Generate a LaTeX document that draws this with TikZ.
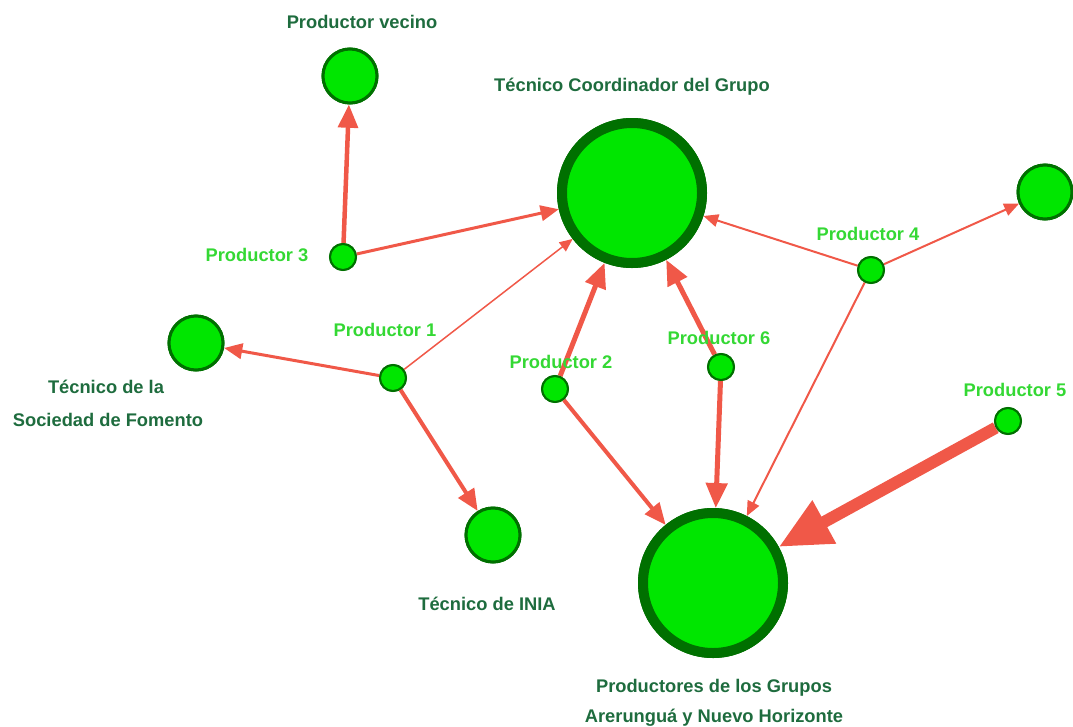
\documentclass[tikz,border=0pt]{standalone}
\usepackage{fontspec}
\setmainfont{Liberation Sans}
\usetikzlibrary{arrows.meta}
\definecolor{edgec}{RGB}{240,88,72}
\definecolor{nfill}{RGB}{0,230,0}
\definecolor{nborder}{RGB}{0,112,0}
\definecolor{darklab}{RGB}{30,108,62}
\definecolor{lightlab}{RGB}{52,216,52}
\tikzset{
  bignode/.style={circle, fill=nfill, draw=nborder, line width=10pt, minimum size=140pt, inner sep=0pt},
  midnode/.style={circle, fill=nfill, draw=nborder, line width=3pt, minimum size=54pt, inner sep=0pt},
  prodnode/.style={circle, fill=nfill, draw=nborder, line width=2pt, minimum size=26pt, inner sep=0pt},
  darktext/.style={text=darklab, font=\bfseries\fontsize{18.3}{21}\selectfont, inner sep=0pt},
  lighttext/.style={text=lightlab, font=\bfseries\fontsize{18.3}{21}\selectfont, inner sep=0pt},
  edge/.style={draw=edgec, -{Triangle[length=#1*3.4pt+8pt, width=#1*2.8pt+7pt]}, line width=#1 pt},
}
\begin{document}
\begin{tikzpicture}[x=1pt,y=-1pt]
\useasboundingbox (0,0) rectangle (1073,726);
% nodes
\node[midnode] (vecino) at (350,76) {};
\node[bignode] (coord) at (632,193) {};
\node[midnode] (right) at (1045,192) {};
\node[midnode] (sdf) at (196,343) {};
\node[midnode] (inia) at (493,535) {};
\node[bignode] (grupos) at (713,583) {};
\node[prodnode] (p3) at (343,257) {};
\node[prodnode] (p1) at (393,378) {};
\node[prodnode] (p2) at (555,389) {};
\node[prodnode] (p6) at (721,367) {};
\node[prodnode] (p4) at (871,270) {};
\node[prodnode] (p5) at (1008,421) {};
% edges
\draw[edge=4.5] (p3) -- (vecino);
\draw[edge=3] (p3) -- (coord);
\draw[edge=1.5] (p1) -- (coord);
\draw[edge=3] (p1) -- (sdf);
\draw[edge=4] (p1) -- (inia);
\draw[edge=5] (p2) -- (coord);
\draw[edge=4] (p2) -- (grupos);
\draw[edge=5] (p6) -- (coord);
\draw[edge=5] (p6) -- (grupos);
\draw[edge=2] (p4) -- (coord);
\draw[edge=2] (p4) -- (right);
\draw[edge=2] (p4) -- (grupos);
\draw[draw=edgec, line width=12pt, -{Triangle[length=52pt, width=46pt]}] (p5) -- (grupos);
% redraw nodes on top
\node[midnode] at (vecino) {};
\node[bignode] at (coord) {};
\node[midnode] at (right) {};
\node[midnode] at (sdf) {};
\node[midnode] at (inia) {};
\node[bignode] at (grupos) {};
\node[prodnode] at (p3) {};
\node[prodnode] at (p1) {};
\node[prodnode] at (p2) {};
\node[prodnode] at (p6) {};
\node[prodnode] at (p4) {};
\node[prodnode] at (p5) {};
% labels
\node[darktext] (lvecino) at (362,22) {Productor vecino};
\node[darktext] (lcoord) at (632,87) {Técnico Coordinador del Grupo};
\node[darktext] (lsdf1) at (106,387) {Técnico de la};
\node[darktext] (lsdf2) at (108,420) {Sociedad de Fomento};
\node[darktext] (linia) at (487,604) {Técnico de INIA};
\node[darktext] (lgr1) at (714,688) {Productores de los Grupos};
\node[darktext] (lgr2) at (714,718) {Arerunguá y Nuevo Horizonte};
\node[lighttext] (l3) at (257,255) {Productor 3};
\node[lighttext] (l1) at (385,330) {Productor 1};
\node[lighttext] (l2) at (561,362) {Productor 2};
\node[lighttext] (l6) at (719,338) {Productor 6};
\node[lighttext] (l4) at (868,234) {Productor 4};
\node[lighttext] (l5) at (1015,390) {Productor 5};
\end{tikzpicture}
\end{document}
